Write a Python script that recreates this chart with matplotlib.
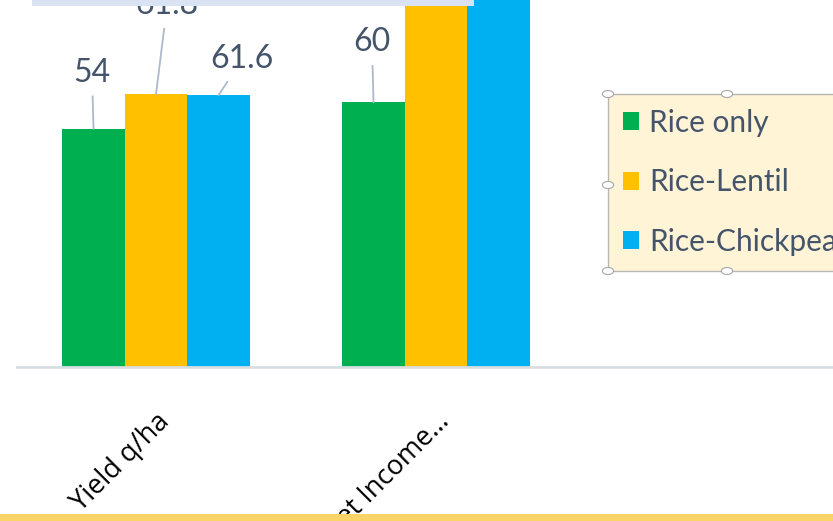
import matplotlib
matplotlib.use('Agg')
import matplotlib.pyplot as plt
import matplotlib.patches as mpatches
import numpy as np

# ─────────────────────────────────────────────────────────────
# Data
# ─────────────────────────────────────────────────────────────
categories = ["Yield q/ha", "Net Income…"]
series_names = ["Rice only", "Rice-Lentil", "Rice-Chickpea"]
rice_only = [54, 60]
rice_lentil = [61.8, 95]      # second value runs off the top of the crop
rice_chickpea = [61.6, 98]    # second value runs off the top of the crop

colors = ['#00B050', '#FFC000', '#00B0F0']
label_color = '#44546A'
leader_color = '#ADB9CA'

W, H = 833, 521
fig = plt.figure(figsize=(W / 100, H / 100), dpi=100)

# axes geometry in pixels (baseline at y=367 from top, groups at x=156 and 436)
px_per_group = 280.0
px_per_unit = 4.41
base_px = 367
ax = fig.add_axes([0, (H - base_px) / H, 1, base_px / H])
ax.set_xlim(-156 / px_per_group, (W - 156) / px_per_group)
ax.set_ylim(0, base_px / px_per_unit)

x = np.arange(len(categories))
width = 62.5 / px_per_group
all_series = [rice_only, rice_lentil, rice_chickpea]
bars = []
for i, (vals, name, c) in enumerate(zip(all_series, series_names, colors)):
    b = ax.bar(x + (i - 1) * width, vals, width, color=c, label=name, zorder=2)
    bars.append(b)

# data labels with leader lines (offsets in pixels)
offsets = [
    [(-1.5, 56), (-1.5, 60)],
    [(11, 89), (0, 40)],
    [(23.5, 36), (0, 40)],
]
for i, b in enumerate(bars):
    for j, rect in enumerate(b):
        v = all_series[i][j]
        if v > ax.get_ylim()[1]:
            continue
        cx = rect.get_x() + rect.get_width() / 2
        ax.annotate(f'{v:g}', (cx, v), xytext=offsets[i][j], textcoords='offset pixels',
                    ha='center', va='center', fontsize=23, color=label_color,
                    family=['Lato', 'DejaVu Sans'], annotation_clip=False,
                    arrowprops=dict(arrowstyle='-', color=leader_color, lw=1.3,
                                    shrinkA=4, shrinkB=0))

# axis styling: only a light baseline
for s in ['top', 'right', 'left']:
    ax.spines[s].set_visible(False)
ax.spines['bottom'].set_color('#D9DEE3')
ax.spines['bottom'].set_linewidth(2)
ax.spines['bottom'].set_bounds(-139 / px_per_group, (W - 156) / px_per_group)
ax.set_yticks([])
ax.set_xticks(x)
ax.set_xticklabels(categories, rotation=45, ha='right', rotation_mode='anchor',
                   fontsize=19.5, color='black', family=['Open Sans', 'DejaVu Sans'])
ax.tick_params(axis='x', length=0, pad=29)

# legend (runs off the right edge of the crop)
leg = fig.legend(loc='upper left', bbox_to_anchor=(608 / W, 1 - 94 / H), frameon=True,
                 prop={'family': ['Lato', 'DejaVu Sans'], 'size': 21.5},
                 handlelength=0.55, handleheight=0.55, handletextpad=0.33,
                 labelspacing=1.05, borderpad=0.5, borderaxespad=0, fancybox=False)
leg.get_frame().set_facecolor('#FFF2CC')
leg.get_frame().set_edgecolor('#A6A6A6')
leg.get_frame().set_linewidth(1)
for t in leg.get_texts():
    t.set_color(label_color)

# selection handles on legend frame
for hx, hy in [(608, 94), (727, 94), (608, 185), (608, 271), (727, 271)]:
    fig.patches.append(mpatches.Circle((hx / W, 1 - hy / H), 3.5 / H, transform=fig.transFigure,
                                       facecolor='white', edgecolor='#A6A6A6', lw=0.8, zorder=10))

# slide decoration bands
fig.patches.append(mpatches.Rectangle((32 / W, 1 - 6 / H), (474 - 32) / W, 6 / H,
                                      transform=fig.transFigure, facecolor='#DAE3F3',
                                      edgecolor='none', zorder=5))
fig.patches.append(mpatches.Rectangle((0, 0), 1, 7 / H, transform=fig.transFigure,
                                      facecolor='#FAD565', edgecolor='none', zorder=5))

fig.savefig('out.png', dpi=100)
